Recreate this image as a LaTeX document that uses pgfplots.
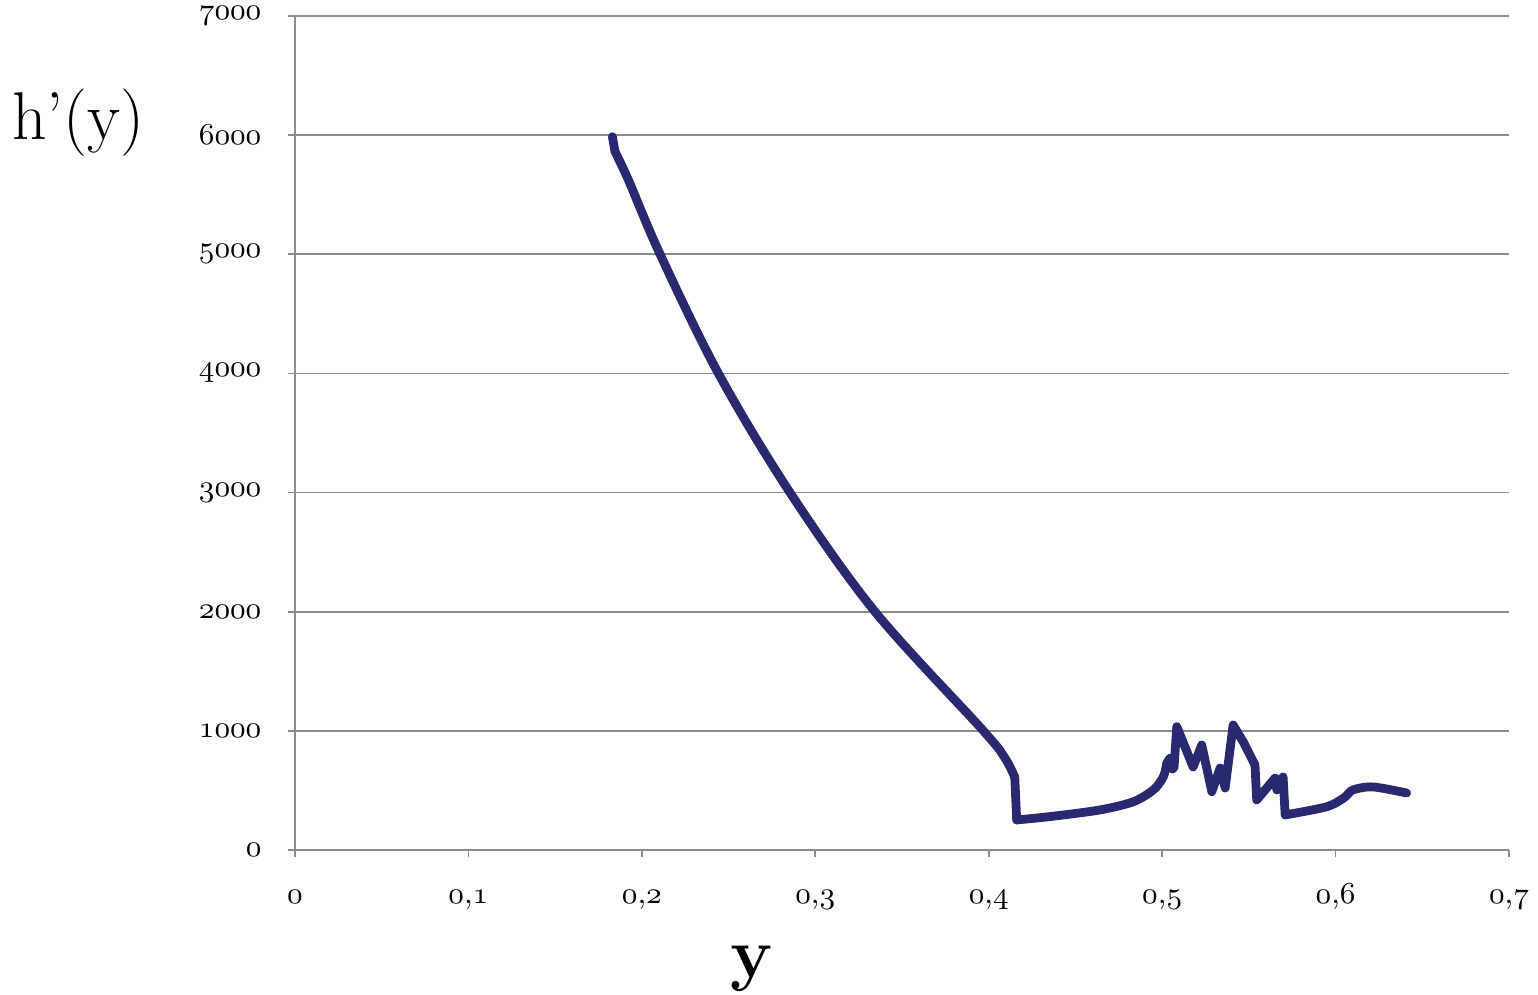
\documentclass[border=0pt]{standalone}
\usepackage{pgfplots}
\pgfplotsset{compat=1.18}
\definecolor{navy}{RGB}{41,41,112}
\definecolor{gridg}{RGB}{140,140,140}
\DeclareRobustCommand{\tk}[1]{{\fontsize{8.6}{10}\selectfont$\oldstylenums{#1}$}}
\DeclareRobustCommand{\tkc}[1]{{\fontsize{8.6}{10}\selectfont$\oldstylenums{0}{,}\oldstylenums{#1}$}}
\tikzset{hl/.style={navy, line width=2.6pt, line cap=round, line join=round, mark=none}}
\begin{document}
\begin{tikzpicture}
\path[use as bounding box] (-3.069cm,-1.508cm) rectangle (12.931cm,8.842cm);
\begin{axis}[
  at={(0,0)}, anchor=south west,
  scale only axis, width=12.63cm, height=8.676cm,
  xmin=0, xmax=0.7, ymin=0, ymax=7000,
  axis x line=bottom, axis y line=left,
  axis line style={gridg, line width=0.5pt, -},
  xtick={0,0.1,0.2,0.3,0.4,0.5,0.6,0.7},
  xticklabels={{\tk{0}},{\tkc{1}},{\tkc{2}},{\tkc{3}},{\tkc{4}},{\tkc{5}},{\tkc{6}},{\tkc{7}}},
  ytick={0,1000,2000,3000,4000,5000,6000,7000},
  yticklabels={{\tk{0}},{\tk{1000}},{\tk{2000}},{\tk{3000}},{\tk{4000}},{\tk{5000}},{\tk{6000}},{\tk{7000}}},
  scaled y ticks=false,
  tick align=outside, major tick length=0.075cm,
  tick style={gridg, line width=0.5pt},
  ymajorgrids, grid style={gridg, line width=0.5pt},
  xticklabel style={anchor=base, yshift=-0.48cm},
  yticklabel style={xshift=-0.15cm},
  clip=false,
]
\addplot[hl] coordinates {(0.1830,5987) (0.1845,5861)};
\addplot[hl, smooth, tension=0.55] coordinates {
(0.1845,5861) (0.1922,5624) (0.2105,5000) (0.2441,4000) (0.2854,3000)
(0.3344,2000) (0.3969,1000) (0.4094,770) (0.4150,610)
};
\addplot[hl] coordinates {(0.4150,610) (0.4161,252)};
\addplot[hl, smooth, tension=0.5] coordinates {
(0.4161,252) (0.4353,280) (0.4642,336) (0.4834,405) (0.4949,504) (0.5007,615) (0.5026,728)
};
\addplot[hl] coordinates {
(0.5026,728) (0.5045,770) (0.5058,680) (0.5068,690) (0.5084,1035) (0.5178,697) (0.5228,881)
(0.5286,489) (0.5334,688) (0.5363,520) (0.5409,1049) (0.5470,900) (0.5535,713) (0.5545,420)
(0.5651,604) (0.5661,504) (0.5697,613) (0.5709,294)
};
\addplot[hl, smooth, tension=0.5] coordinates {
(0.5709,294) (0.5949,363) (0.6050,440) (0.6100,504) (0.6216,529) (0.6409,478)
};
\end{axis}
\node at (4.754cm,-1.24cm) {\fontsize{21}{24}\selectfont\bfseries y};
\node at (-2.257cm,7.563cm) {\fontsize{20}{24}\selectfont h’(y)};
\end{tikzpicture}
\end{document}
